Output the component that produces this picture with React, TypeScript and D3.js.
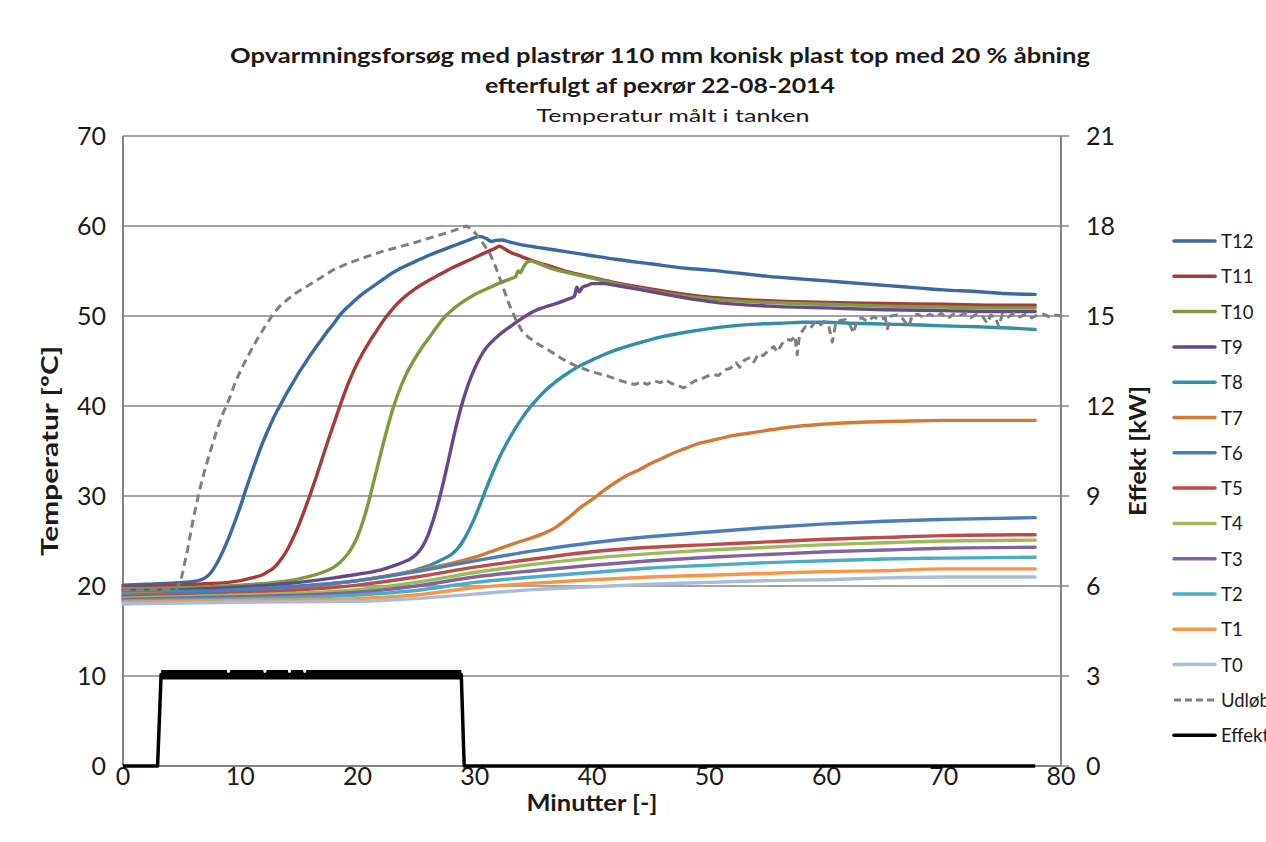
import React from 'react';
import * as d3 from 'd3';

type Pt = [number, number];

// minutes, °C
const T12: Pt[] = [[0,20.1],[2,20.2],[4,20.3],[6,20.5],[7,20.9],[7.5,21.5],[8,22.5],[8.5,23.8],[9,25.3],[9.5,27],[10,28.8],[10.5,30.8],[11,32.7],[11.5,34.5],[12,36.2],[12.5,37.7],[13,39.1],[13.5,40.3],[14,41.5],[14.5,42.6],[15,43.7],[15.5,44.7],[16,45.7],[16.5,46.6],[17,47.5],[17.5,48.4],[18,49.2],[18.5,50.1],[19,50.8],[19.5,51.4],[20,52],[21,53],[22,53.9],[23,54.8],[24,55.5],[25,56.1],[26,56.7],[27,57.2],[28,57.7],[29,58.2],[29.8,58.6],[30.4,58.85],[31,58.6],[31.4,58.3],[31.8,58.4],[32.3,58.45],[33,58.2],[34,57.9],[35,57.7],[36,57.5],[38,57.1],[40,56.7],[42,56.3],[45,55.8],[48,55.3],[50,55.1],[53,54.7],[55,54.4],[58,54.1],[60,53.9],[63,53.6],[65,53.4],[68,53.1],[70,52.9],[73,52.7],[75,52.5],[77.8,52.4]];
const T11: Pt[] = [[0,19.9],[3,20.0],[6,20.2],[9,20.4],[10,20.6],[11,20.9],[12,21.3],[12.5,21.7],[13,22.2],[13.5,23],[14,24],[14.5,25.3],[15,26.8],[15.5,28.5],[16,30.3],[16.5,32.2],[17,34.2],[17.5,36.2],[18,38.1],[18.5,40],[19,41.8],[19.5,43.4],[20,44.8],[20.5,46],[21,47.1],[21.5,48.1],[22,49.1],[22.5,50],[23,50.8],[24,52.1],[25,53.1],[26,53.9],[27,54.6],[28,55.3],[29,55.9],[30,56.5],[31,57.1],[31.7,57.5],[32.1,57.75],[32.5,57.5],[33,57.1],[34,56.6],[35,56.1],[36,55.7],[37,55.3],[38,54.9],[40,54.3],[42,53.7],[45,53],[48,52.4],[50,52.1],[55,51.7],[60,51.5],[65,51.4],[70,51.3],[75,51.2],[77.8,51.2]];
const T10: Pt[] = [[0,19.7],[5,19.8],[10,20.1],[13,20.4],[15,20.8],[16,21.1],[17,21.5],[18,22.1],[18.5,22.6],[19,23.3],[19.5,24.2],[20,25.5],[20.5,27.3],[21,29.6],[21.5,32.2],[22,34.8],[22.5,37.3],[23,39.6],[23.5,41.5],[24,43.1],[24.5,44.4],[25,45.5],[25.5,46.5],[26,47.4],[26.5,48.3],[27,49.2],[27.5,50],[28,50.6],[29,51.6],[30,52.4],[31,53],[32,53.6],[33,54.1],[33.5,54.4],[33.7,55],[33.9,54.8],[34.1,55.3],[34.4,55.9],[34.8,56.1],[35.5,55.8],[36.5,55.3],[38,54.8],[40,54.2],[42,53.6],[45,52.8],[48,52.2],[50,51.9],[55,51.5],[60,51.3],[65,51.1],[70,51.0],[75,50.9],[77.8,50.9]];
const T9: Pt[] = [[0,19.5],[5,19.6],[10,19.9],[15,20.4],[18,20.9],[20,21.3],[22,21.8],[23,22.2],[24,22.7],[24.5,23],[25,23.5],[25.5,24.3],[26,25.6],[26.5,27.5],[27,29.8],[27.5,32.5],[28,35.4],[28.5,38.2],[29,40.6],[29.5,42.6],[30,44.2],[30.5,45.5],[31,46.5],[31.5,47.2],[32,47.8],[33,48.8],[34,49.7],[35,50.5],[36,51],[37,51.4],[38,51.9],[38.5,52.2],[38.7,53.2],[38.9,52.7],[39.2,53.2],[39.6,53.4],[40,53.6],[41,53.6],[42,53.4],[43,53.2],[45,52.7],[48,52],[50,51.6],[55,51.1],[60,50.9],[65,50.7],[70,50.6],[75,50.5],[77.8,50.5]];
const T8: Pt[] = [[0,19.3],[5,19.4],[10,19.6],[15,20],[20,20.6],[23,21.2],[25,21.8],[26,22.2],[27,22.8],[28,23.5],[28.5,24.1],[29,25],[29.5,26.2],[30,27.6],[30.5,29.2],[31,30.9],[31.5,32.5],[32,34],[32.5,35.3],[33,36.5],[33.5,37.6],[34,38.6],[34.5,39.5],[35,40.3],[36,41.7],[37,42.8],[38,43.7],[39,44.5],[40,45.1],[41,45.7],[42,46.2],[44,47],[46,47.7],[48,48.2],[50,48.6],[52,48.9],[54,49.1],[56,49.2],[58,49.3],[60,49.3],[62,49.2],[65,49.1],[68,49],[70,48.9],[73,48.8],[75,48.7],[77.8,48.5]];
const T7: Pt[] = [[0,19.1],[5,19.2],[10,19.3],[15,19.8],[20,20.6],[25,21.7],[28,22.5],[30,23.2],[32,24.1],[34,25],[36,25.9],[37,26.6],[38,27.6],[39,28.7],[40,29.6],[41,30.6],[42,31.5],[43,32.3],[44,32.9],[45,33.6],[46,34.2],[47,34.8],[48,35.3],[49,35.8],[50,36.1],[52,36.7],[54,37.1],[56,37.5],[58,37.8],[60,38],[63,38.2],[66,38.3],[70,38.4],[74,38.4],[77.8,38.4]];
const T6: Pt[] = [[0,18.95],[10,19.5],[20,20.6],[25,21.6],[30,22.8],[35,23.9],[40,24.8],[45,25.5],[50,26],[55,26.5],[60,26.9],[65,27.2],[70,27.4],[77.8,27.6]];
const T5: Pt[] = [[0,18.8],[10,19.2],[20,20.1],[25,21],[30,22.1],[35,23],[40,23.8],[45,24.3],[50,24.6],[55,24.9],[60,25.2],[65,25.4],[70,25.6],[77.8,25.7]];
const T4: Pt[] = [[0,18.65],[10,19],[20,19.6],[25,20.4],[30,21.5],[35,22.4],[40,23.1],[45,23.6],[50,24],[55,24.3],[60,24.6],[65,24.8],[70,25],[77.8,25.1]];
const T3: Pt[] = [[0,18.5],[10,18.8],[20,19.3],[25,20],[30,21],[35,21.7],[40,22.3],[45,22.8],[50,23.2],[55,23.5],[60,23.8],[65,24],[70,24.2],[77.8,24.3]];
const T2: Pt[] = [[0,18.35],[10,18.6],[20,19],[25,19.5],[30,20.4],[35,21],[40,21.5],[45,22],[50,22.3],[55,22.6],[60,22.8],[65,23],[70,23.1],[77.8,23.2]];
const T1: Pt[] = [[0,18.2],[10,18.4],[20,18.6],[25,19],[30,19.8],[35,20.3],[40,20.7],[45,21],[50,21.2],[55,21.4],[60,21.6],[65,21.7],[70,21.9],[77.8,21.9]];
const T0: Pt[] = [[0,18],[10,18.2],[20,18.3],[25,18.6],[30,19.1],[35,19.6],[40,19.9],[45,20.2],[50,20.4],[55,20.6],[60,20.7],[65,20.9],[70,21],[77.8,21]];
const UDLOB: Pt[] = [[0,19.6],[2,19.6],[4,19.6],[4.6,19.7],[5,21],[5.5,24],[6,27.5],[6.5,30.5],[7,33],[7.5,35.2],[8,37.3],[8.5,39.1],[9.1,40.9],[9.6,42.7],[10.2,44.4],[10.8,45.9],[11.4,47.3],[12,48.6],[12.7,50],[13.3,51],[14,51.8],[14.8,52.6],[15.7,53.3],[16.8,54.2],[17.9,55.1],[19.3,55.9],[20.8,56.6],[22.2,57.2],[23.6,57.7],[25,58.2],[26.5,58.8],[28,59.4],[29.3,60],[29.8,59.6],[30.3,58.8],[30.8,57.9],[31.3,56.9],[31.8,55.4],[32.3,53.6],[32.9,51.4],[33.5,49.6],[34,48.4],[34.6,47.6],[35.5,46.8],[36.3,46.2],[37.5,45.2],[38.7,44.4],[40,43.8],[41.4,43.3],[42.5,42.8],[43.2,42.5],[43.7,42.4],[44.2,42.7],[44.7,42.4],[45.3,42.8],[45.8,42.6],[46.3,42.9],[46.8,42.5],[47.3,42.3],[47.8,42],[48.3,42.4],[48.8,42.8],[49.3,43],[49.8,43.3],[50.3,43.5],[50.8,43.4],[51.3,44],[51.8,44.2],[52.3,44.8],[52.6,44.3],[53,45.1],[53.5,45.4],[53.8,44.9],[54.2,45.8],[54.6,45.6],[55,46.1],[55.5,46.6],[55.8,46],[56.2,46.9],[56.6,47.4],[57,47.3],[57.3,47.8],[57.5,45.7],[57.7,47.9],[58.2,48.8],[58.6,48.6],[59,49.3],[59.4,48.9],[59.8,49.4],[60.2,48.8],[60.5,47.1],[60.8,49.3],[61.2,49.5],[61.6,49.6],[62,49],[62.3,48.1],[62.6,49.5],[63,49.8],[63.5,49.4],[64,49.9],[64.5,49.6],[65,49.8],[65.2,48.6],[65.5,50],[66,50.1],[66.5,49.7],[67,48.8],[67.3,50],[67.8,50.2],[68.3,49.8],[68.8,50.2],[69.3,49.9],[69.8,50.3],[70.3,49.7],[70.8,50.2],[71.3,50],[71.8,50.3],[72.3,49.8],[72.8,50.2],[73.3,50],[73.7,49.2],[74,50.1],[74.4,49.9],[74.7,48.8],[75,50.2],[75.5,49.9],[76,50.3],[76.5,49.9],[77,50.2],[77.5,49.8],[78,50.1],[78.5,50.2],[79,49.9],[79.5,50.1],[80,50]];

// minutes, kW
const EFFEKT: Pt[] = [[0,0],[2.95,0],[3.25,3.05],[28.85,3.05],[29.1,0],[77.8,0]];
const EFFEKT_TOP: Pt[] = [[3.25,3.2],[8.85,3.2],[9.0,2.95],[9.15,3.2],[11.95,3.2],[12.1,2.95],[12.25,3.2],[14.05,3.2],[14.2,2.95],[14.35,3.2],[15.35,3.2],[15.5,2.95],[15.65,3.2],[28.85,3.2]];
const EFFEKT_BAND_LOW = 2.88;

const SERIES_NAMES = ['T12','T11','T10','T9','T8','T7','T6','T5','T4','T3','T2','T1','T0'];
const SERIES_DATA = [T12,T11,T10,T9,T8,T7,T6,T5,T4,T3,T2,T1,T0];
const SERIES_COLORS = ['#3C68A3','#A63B39','#7E9B3F','#65498C','#3190A4','#D37B34','#4A7EBB','#BE4B48','#9BBB59','#8064A2','#4BACC6','#F79646','#A9BCD9'];

const X_TICKS = [0,10,20,30,40,50,60,70,80];
const Y_TICKS = [0,10,20,30,40,50,60,70];
const Y2_TICKS = [0,3,6,9,12,15,18,21];

export default function App() {
  const W = 1266, H = 842;
  const x = d3.scaleLinear().domain([0, 80]).range([123, 1061]);
  const y = d3.scaleLinear().domain([0, 70]).range([766, 136]);
  const y2 = d3.scaleLinear().domain([0, 21]).range([766, 136]);
  const line = d3.line<Pt>().x(d => x(d[0])).y(d => y(d[1])).curve(d3.curveMonotoneX);
  const lineRaw = d3.line<Pt>().x(d => x(d[0])).y(d => y(d[1]));
  const line2 = d3.line<Pt>().x(d => x(d[0])).y(d => y2(d[1]));
  const band = d3.area<Pt>().x(d => x(d[0])).y0(() => y2(EFFEKT_BAND_LOW)).y1(d => y2(d[1]));
  const font = 'Lato, "Open Sans", sans-serif';
  const axisColor = '#868686';
  const textColor = '#1a1a1a';

  const legendItems = [
    ...SERIES_NAMES.map((n, i) => ({ name: n, color: SERIES_COLORS[i], dash: undefined as string | undefined, w: 3.5 })),
    { name: 'Udløb', color: '#808080', dash: '7 4', w: 3 },
    { name: 'Effekt', color: '#000000', dash: undefined, w: 3.5 },
  ];

  return (
    <svg width={W} height={H} style={{ position: 'absolute', left: 0, top: 0, background: '#fff' }} fontFamily={font}>
      <rect x={0} y={0} width={W} height={H} fill="#fff" />
      {/* title */}
      <text x={660} y={63} textAnchor="middle" fontSize={21} fontWeight="bold" fill={textColor} textLength={860} lengthAdjust="spacingAndGlyphs">Opvarmningsforsøg med plastrør 110 mm konisk plast top med 20 % åbning</text>
      <text x={660} y={93} textAnchor="middle" fontSize={21} fontWeight="bold" fill={textColor} textLength={350} lengthAdjust="spacingAndGlyphs">efterfulgt af pexrør 22-08-2014</text>
      <text x={673} y={122} textAnchor="middle" fontSize={17} fill={textColor} textLength={273} lengthAdjust="spacingAndGlyphs">Temperatur målt i tanken</text>

      {/* gridlines */}
      {Y_TICKS.filter(t => t > 0).map(t => (
        <line key={'g' + t} x1={x(0)} x2={x(80)} y1={y(t)} y2={y(t)} stroke={axisColor} strokeWidth={1.5} />
      ))}
      {/* axes */}
      <line x1={x(0)} x2={x(0)} y1={y(0)} y2={y(70)} stroke={axisColor} strokeWidth={2} />
      <line x1={x(0)} x2={x(80)} y1={y(0)} y2={y(0)} stroke={axisColor} strokeWidth={2} />
      <line x1={x(80)} x2={x(80)} y1={y2(0)} y2={y2(21)} stroke={axisColor} strokeWidth={2} />
      {Y2_TICKS.map(t => (
        <line key={'rt' + t} x1={x(80)} x2={x(80) + 8} y1={y2(t)} y2={y2(t)} stroke={axisColor} strokeWidth={1.5} />
      ))}

      {/* tick labels */}
      {Y_TICKS.map(t => (
        <text key={'yl' + t} x={106} y={y(t) + 9} textAnchor="end" fontSize={25} fill={textColor}>{t}</text>
      ))}
      {Y2_TICKS.map(t => (
        <text key={'y2l' + t} x={1086} y={y2(t) + 9} textAnchor="start" fontSize={25} fill={textColor}>{t}</text>
      ))}
      {X_TICKS.map(t => (
        <text key={'xl' + t} x={x(t)} y={785} textAnchor="middle" fontSize={25} fill={textColor}>{t}</text>
      ))}

      {/* axis titles */}
      <text x={592} y={811} textAnchor="middle" fontSize={22} fontWeight="bold" fill={textColor} textLength={131} lengthAdjust="spacingAndGlyphs">Minutter [-]</text>
      <text transform="translate(58,451) rotate(-90)" textAnchor="middle" fontSize={23} fontWeight="bold" fill={textColor} textLength={210} lengthAdjust="spacingAndGlyphs">Temperatur [ºC]</text>
      <text transform="translate(1146,451) rotate(-90)" textAnchor="middle" fontSize={23} fontWeight="bold" fill={textColor} textLength={130} lengthAdjust="spacingAndGlyphs">Effekt [kW]</text>

      {/* series */}
      {SERIES_DATA.map((d, i) => (
        <path key={SERIES_NAMES[i]} d={line(d) || ''} fill="none" stroke={SERIES_COLORS[i]} strokeWidth={3.4} strokeLinejoin="round" strokeLinecap="round" />
      ))}
      <path d={lineRaw(UDLOB) || ''} fill="none" stroke="#808080" strokeWidth={3} strokeDasharray="8 5" strokeLinejoin="round" />
      <path d={band(EFFEKT_TOP) || ''} fill="#000" stroke="none" />
      <path d={line2(EFFEKT) || ''} fill="none" stroke="#000" strokeWidth={3.5} strokeLinejoin="round" />

      {/* legend */}
      {legendItems.map((it, i) => {
        const ly = 241 + i * 35.3;
        return (
          <g key={'lg' + it.name}>
            <line x1={1174} x2={1215} y1={ly} y2={ly} stroke={it.color} strokeWidth={it.w} strokeDasharray={it.dash} strokeLinecap={it.dash ? 'butt' : 'round'} />
            <text x={1221} y={ly + 7} fontSize={18.5} fill={textColor}>{it.name}</text>
          </g>
        );
      })}
    </svg>
  );
}
